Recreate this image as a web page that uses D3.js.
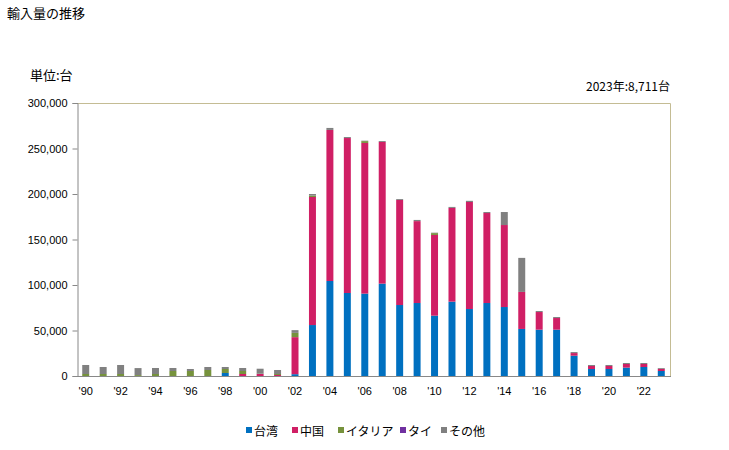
<!DOCTYPE html>
<html>
<head>
<meta charset="utf-8">
<script src="https://cdn.jsdelivr.net/npm/d3@7"></script>
<style>
body { margin: 0; background: #fff; }
text { font-family: "Noto Sans CJK JP", "Noto Sans", sans-serif; fill: #000; }
</style>
</head>
<body>
<svg id="chart" width="729" height="450"></svg>
<script>
// data
var years = d3.range(1990, 2024);
var taiwan = [0,0,0,0,0,0,0,0,3300,0,0,0,2000,56000,104400,91200,90500,101500,78000,80200,66300,81700,73600,80200,75800,51700,50900,50900,22300,7700,7700,9200,9900,5500];
var china = [0,0,0,0,0,0,0,0,0,2200,2200,1100,40700,140700,166000,170300,165600,155700,115400,90000,88700,103000,117600,98900,90100,40700,19400,12800,2900,3300,3300,4000,3300,2300];
var italy = [2200,2200,2200,1000,2200,5500,5500,6600,4400,3300,300,1100,4700,1500,0,0,2000,0,0,0,2000,0,0,0,0,0,0,0,0,0,0,0,0,0];
var thai = [0,0,0,0,0,0,0,0,0,0,0,0,0,0,0,0,0,0,0,0,0,0,0,0,0,0,0,0,0,0,0,0,0,0];
var other = [9900,7700,9900,7700,6600,3300,2200,3300,2200,3300,5500,4400,3000,1800,2200,1100,500,1000,1000,1300,500,1100,1300,1100,14300,37400,1100,1100,1100,1100,1100,1100,1100,900];
var seriesNames = ["台湾", "中国", "イタリア", "タイ", "その他"];
var colors = ["#0070c0", "#d01f65", "#76923c", "#7030a0", "#808080"];
var yTicks = [0, 50000, 100000, 150000, 200000, 250000, 300000];

var svg = d3.select("#chart");
var plotLeft = 77, plotRight = 670, plotTop = 103, plotBottom = 376;

var rows = years.map(function(yr, i) {
	return { year: yr, "台湾": taiwan[i], "中国": china[i], "イタリア": italy[i], "タイ": thai[i], "その他": other[i] };
});

var x = d3.scaleBand().domain(years).range([plotLeft, plotRight]).paddingInner(0.6).paddingOuter(0.3);
var y = d3.scaleLinear().domain([0, 300000]).range([plotBottom, plotTop]);
var color = d3.scaleOrdinal().domain(seriesNames).range(colors);

var stacked = d3.stack().keys(seriesNames)(rows);

// titles
svg.append("text").attr("x", 7).attr("y", 18).style("font-size", "13px").text("輸入量の推移");
svg.append("text").attr("x", 30).attr("y", 80).style("font-size", "13px").text("単位:台");
svg.append("text").attr("x", 670).attr("y", 91).attr("text-anchor", "end").style("font-size", "12px").text("2023年:8,711台");

// frame (top and right)
svg.append("path")
	.attr("d", "M" + plotLeft + "," + (plotTop + 0.5) + "H" + (plotRight + 0.5) + "V" + plotBottom)
	.attr("fill", "none")
	.attr("stroke", "#c4bc94")
	.attr("stroke-width", 1);

// bars
svg.append("g")
	.selectAll("g")
	.data(stacked)
	.enter()
	.append("g")
	.attr("fill", function(d) { return color(d.key); })
	.selectAll("rect")
	.data(function(d) { return d; })
	.enter()
	.append("rect")
	.attr("x", function(d) { return x(d.data.year); })
	.attr("width", x.bandwidth())
	.attr("y", function(d) { return y(d[1]); })
	.attr("height", function(d) { return y(d[0]) - y(d[1]); });

// y axis
var yAxis = svg.append("g")
	.attr("transform", "translate(" + (plotLeft + 0.5) + ",0)")
	.call(d3.axisLeft(y).tickValues(yTicks).tickSize(5).tickPadding(5).tickFormat(d3.format(",")));
yAxis.select(".domain").attr("stroke", "#888");
yAxis.selectAll(".tick line").attr("stroke", "#888");
yAxis.selectAll("text").style("font-size", "11px").style("font-family", "'Liberation Sans', Arial, sans-serif");

// x axis
svg.append("line")
	.attr("x1", plotLeft).attr("x2", plotRight + 1)
	.attr("y1", plotBottom + 0.5).attr("y2", plotBottom + 0.5)
	.attr("stroke", "#888");

svg.append("g")
	.selectAll("text")
	.data(years.filter(function(d) { return d % 2 === 0; }))
	.enter()
	.append("text")
	.attr("x", function(d) { return x(d) + x.bandwidth() / 2; })
	.attr("y", 395)
	.attr("text-anchor", "middle")
	.style("font-size", "11px")
	.style("font-family", "'Liberation Sans', Arial, sans-serif")
	.text(function(d) { return "'" + String(d).slice(2); });

// legend
var legendX = [246, 292, 338, 400, 441];
var legend = svg.append("g")
	.selectAll("g")
	.data(seriesNames)
	.enter()
	.append("g")
	.attr("transform", function(d, i) { return "translate(" + legendX[i] + ",427)"; });
legend.append("rect").attr("width", 6).attr("height", 6).attr("y", 0).attr("fill", function(d) { return color(d); });
legend.append("text").attr("x", 8).attr("y", 9).style("font-size", "12px").text(function(d) { return d; });
</script>
</body>
</html>
